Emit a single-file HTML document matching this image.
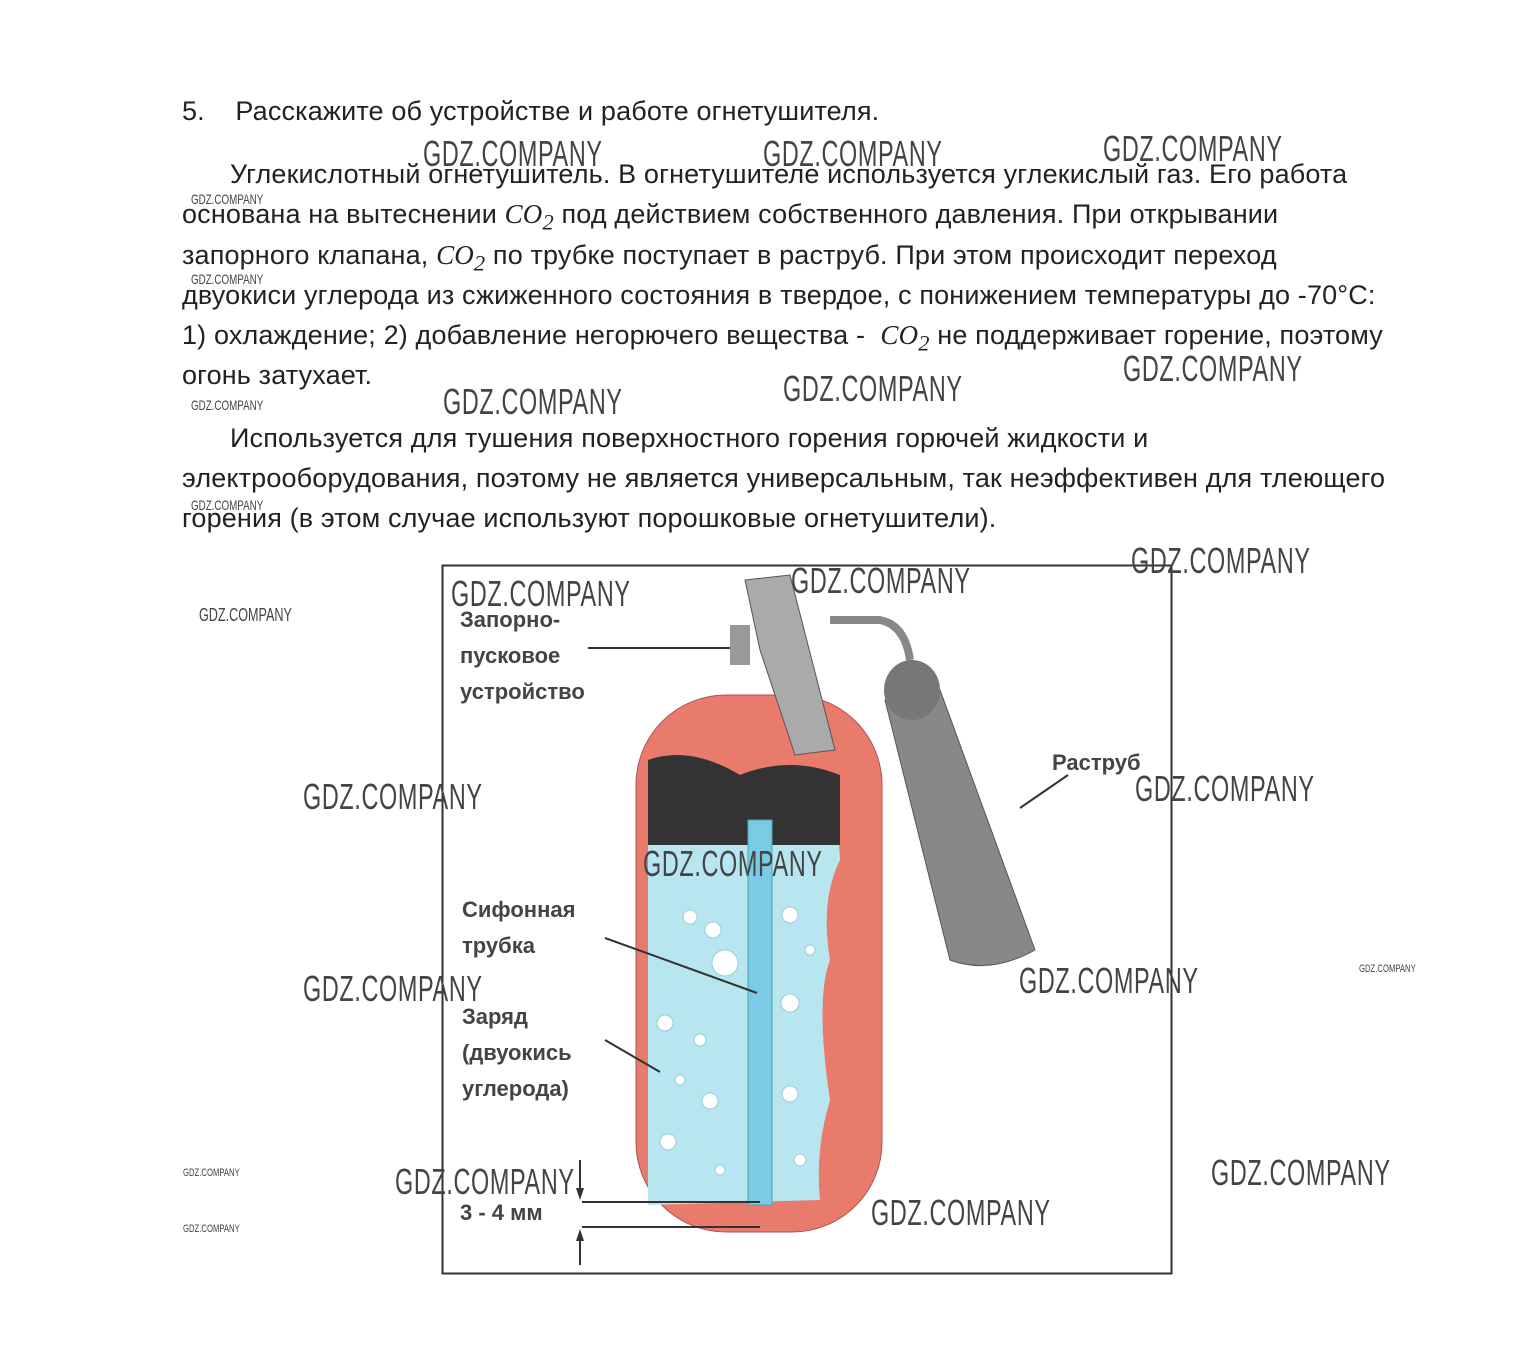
<!DOCTYPE html>
<html><head><meta charset="utf-8"><style>
body{margin:0;background:#fff;width:1537px;height:1349px;position:relative;overflow:hidden;font-family:"Liberation Sans",sans-serif;}
.t{position:absolute;left:182px;font-size:27px;letter-spacing:0.15px;color:#222;white-space:nowrap;}
.w{position:absolute;font-size:36px;color:#444;transform:scaleX(0.65);transform-origin:0 0;white-space:nowrap;letter-spacing:1px}
.ws{position:absolute;font-size:14px;color:#444;transform:scaleX(0.7);transform-origin:0 0;white-space:nowrap}
.l{position:absolute;font-size:22px;font-weight:bold;color:#444;line-height:36px}
i{font-family:"Liberation Serif",serif;}
</style></head><body>
<div class="t" style="top:96px">5.&nbsp;&nbsp;&nbsp; Расскажите об устройстве и работе огнетушителя.</div>
<div class="t" style="top:159px;left:230px">Углекислотный огнетушитель. В огнетушителе используется углекислый газ. Его работа</div>
<div class="t" style="top:199px">основана на вытеснении <i>CO<sub>2</sub></i> под действием собственного давления. При открывании</div>
<div class="t" style="top:240px">запорного клапана, <i>CO<sub>2</sub></i> по трубке поступает в раструб. При этом происходит переход</div>
<div class="t" style="top:280px">двуокиси углерода из сжиженного состояния в твердое, с понижением температуры до -70°С:</div>
<div class="t" style="top:320px">1) охлаждение; 2) добавление негорючего вещества - &nbsp;<i>CO<sub>2</sub></i> не поддерживает горение, поэтому</div>
<div class="t" style="top:360px">огонь затухает.</div>
<div class="t" style="top:423px;left:230px">Используется для тушения поверхностного горения горючей жидкости и</div>
<div class="t" style="top:463px">электрооборудования, поэтому не является универсальным, так неэффективен для тлеющего</div>
<div class="t" style="top:503px">горения (в этом случае используют порошковые огнетушители).</div>

<svg style="position:absolute;left:0;top:0" width="1537" height="1349">
<rect x="442.5" y="565.5" width="729" height="708" fill="none" stroke="#333" stroke-width="2"/>
<path d="M830 620 L880 620 Q905 625 910 660" fill="none" stroke="#888" stroke-width="8"/>
<path d="M885 700 L940 690 L1035 950 Q990 975 950 960 Z" fill="#888" stroke="#555"/>
<ellipse cx="912" cy="690" rx="28" ry="30" fill="#777"/>
<rect x="636" y="695" width="246" height="537" rx="90" fill="#e97b6c" stroke="#a55" stroke-width="1"/>
<path d="M648 790 Q690 760 740 790 Q780 760 835 780 L840 860 Q820 900 830 960 Q815 1000 830 1100 Q815 1150 820 1200 L648 1205 Z" fill="#b8e6f0"/>
<path d="M648 760 Q690 745 740 775 Q790 755 840 775 L840 845 L648 845 Z" fill="#333"/>
<rect x="748" y="820" width="24" height="385" fill="#7ccbe6" stroke="#4aa" />
<path d="M745 580 L790 575 L835 750 L795 755 L760 650 Z" fill="#aaa" stroke="#555"/>
<rect x="730" y="625" width="20" height="40" fill="#999"/>
<g fill="#fff" stroke="#9cd">
<circle cx="725" cy="963" r="13"/><circle cx="690" cy="917" r="7"/><circle cx="713" cy="930" r="8"/><circle cx="790" cy="915" r="8"/><circle cx="790" cy="1003" r="9"/><circle cx="665" cy="1023" r="8"/><circle cx="710" cy="1101" r="8"/><circle cx="668" cy="1142" r="8"/><circle cx="790" cy="1094" r="8"/><circle cx="700" cy="1040" r="6"/><circle cx="810" cy="950" r="5"/><circle cx="680" cy="1080" r="5"/><circle cx="720" cy="1170" r="5"/><circle cx="800" cy="1160" r="6"/>
</g>
<g stroke="#333" stroke-width="2" fill="none">
<line x1="588" y1="648" x2="730" y2="648"/>
<line x1="1020" y1="808" x2="1068" y2="775"/>
<line x1="605" y1="938" x2="757" y2="993"/>
<line x1="605" y1="1040" x2="660" y2="1072"/>
<line x1="582" y1="1202" x2="760" y2="1202"/>
<line x1="582" y1="1227" x2="760" y2="1227"/>
<line x1="580" y1="1160" x2="580" y2="1195"/>
<line x1="580" y1="1235" x2="580" y2="1265"/>
</g>
<path d="M576 1188 L580 1200 L584 1188Z M576 1241 L580 1229 L584 1241Z" fill="#333"/>
</svg>
<div class="l" style="left:460px;top:602px">Запорно-<br>пусковое<br>устройство</div>
<div class="l" style="left:1052px;top:745px">Раструб</div>
<div class="l" style="left:462px;top:892px">Сифонная<br>трубка</div>
<div class="l" style="left:462px;top:999px">Заряд<br>(двуокись<br>углерода)</div>
<div class="l" style="left:460px;top:1195px">3 - 4 мм</div>

<div class="w" style="left:423px;top:133px">GDZ.COMPANY</div>
<div class="w" style="left:763px;top:133px">GDZ.COMPANY</div>
<div class="w" style="left:1103px;top:128px">GDZ.COMPANY</div>
<div class="w" style="left:1123px;top:348px">GDZ.COMPANY</div>
<div class="w" style="left:783px;top:368px">GDZ.COMPANY</div>
<div class="w" style="left:443px;top:381px">GDZ.COMPANY</div>
<div class="w" style="left:1131px;top:540px">GDZ.COMPANY</div>
<div class="w" style="left:791px;top:560px">GDZ.COMPANY</div>
<div class="w" style="left:451px;top:573px">GDZ.COMPANY</div>
<div class="w" style="left:303px;top:776px">GDZ.COMPANY</div>
<div class="w" style="left:1135px;top:768px">GDZ.COMPANY</div>
<div class="w" style="left:643px;top:843px">GDZ.COMPANY</div>
<div class="w" style="left:303px;top:968px">GDZ.COMPANY</div>
<div class="w" style="left:1019px;top:960px">GDZ.COMPANY</div>
<div class="w" style="left:1211px;top:1152px">GDZ.COMPANY</div>
<div class="w" style="left:395px;top:1161px">GDZ.COMPANY</div>
<div class="w" style="left:871px;top:1192px">GDZ.COMPANY</div>
<div class="ws" style="left:191px;top:191px">GDZ.COMPANY</div>
<div class="ws" style="left:191px;top:271px">GDZ.COMPANY</div>
<div class="ws" style="left:191px;top:397px">GDZ.COMPANY</div>
<div class="ws" style="left:191px;top:497px">GDZ.COMPANY</div>
<div class="ws" style="left:199px;top:605px;font-size:18px">GDZ.COMPANY</div>
<div class="ws" style="left:1359px;top:963px;font-size:11px">GDZ.COMPANY</div>
<div class="ws" style="left:183px;top:1167px;font-size:11px">GDZ.COMPANY</div>
<div class="ws" style="left:183px;top:1223px;font-size:11px">GDZ.COMPANY</div>
</body></html>
